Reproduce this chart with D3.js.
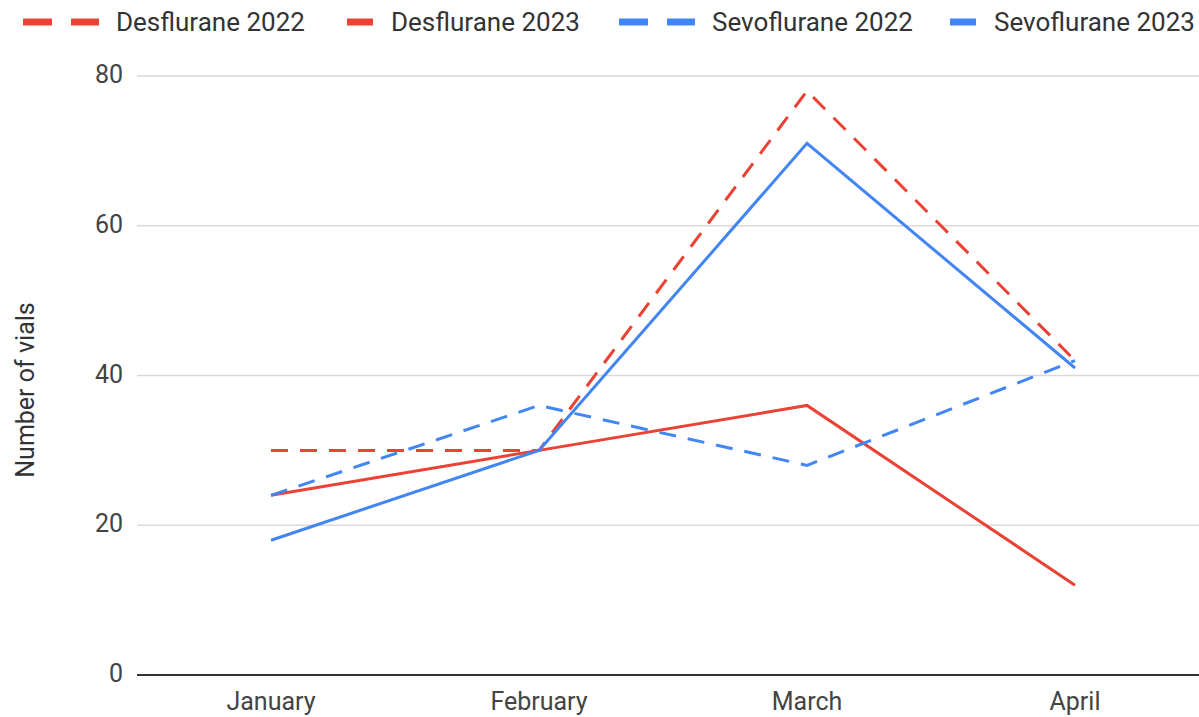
<!DOCTYPE html>
<html><head><meta charset="utf-8">
<script src="https://cdn.jsdelivr.net/npm/d3@7"></script>
<style>body{margin:0;background:#fff;}svg{display:block;font-family:Roboto,"Noto Sans",sans-serif;}</style>
</head><body>
<svg id="c" width="1199" height="717"></svg>
<script>
const months = ["January","February","March","April"];
const desflurane2022 = [30,30,78,42];
const desflurane2023 = [24,30,36,12];
const sevoflurane2022 = [24,36,28,42];
const sevoflurane2023 = [18,30,71,41];
const yTicks = [0,20,40,60,80];
const seriesNames = ["Desflurane 2022","Desflurane 2023","Sevoflurane 2022","Sevoflurane 2023"];

const series = [
  {name:seriesNames[0], values:desflurane2022, color:"#ea4335", dashed:true},
  {name:seriesNames[1], values:desflurane2023, color:"#ea4335", dashed:false},
  {name:seriesNames[2], values:sevoflurane2022, color:"#4285f4", dashed:true},
  {name:seriesNames[3], values:sevoflurane2023, color:"#4285f4", dashed:false}
];

const svg = d3.select("#c");
const mLeft = 137, mRight = 1209, mTop = 76, mBottom = 675;
const x = d3.scaleBand().domain(months).range([mLeft,mRight]);
const y = d3.scaleLinear().domain([0,80]).range([mBottom,mTop]);

// gridlines
svg.append("g").selectAll("line").data(yTicks.filter(d=>d>0)).join("line")
  .attr("x1",mLeft).attr("x2",1199).attr("y1",d=>y(d)).attr("y2",d=>y(d))
  .attr("stroke","#dadada").attr("stroke-width",1.5);

// y axis labels
const ya = svg.append("g").attr("transform",`translate(${mLeft},0)`)
  .call(d3.axisLeft(y).tickValues(yTicks).tickSize(0).tickPadding(14).tickFormat(d3.format("d")));
ya.select(".domain").remove();
ya.selectAll("text").attr("font-size",25).attr("dy","0.26em").attr("fill","#444").attr("font-family","Roboto");

// x axis
const xa = svg.append("g").attr("transform",`translate(0,${mBottom})`)
  .call(d3.axisBottom(x).tickSize(0).tickPadding(17));
xa.select(".domain").attr("d",`M${mLeft},0H1199`).attr("stroke","#333").attr("stroke-width",2);
xa.selectAll("text").attr("font-size",25).attr("fill","#444").attr("font-family","Roboto");

// y title
svg.append("text").attr("transform","translate(34,390) rotate(-90)")
  .attr("text-anchor","middle").attr("font-size",25).attr("fill","#333").text("Number of vials");

// lines
const line = d3.line().x((d,i)=>x(months[i])+x.bandwidth()/2).y(d=>y(d));
svg.append("g").selectAll("path").data(series).join("path")
  .attr("d",d=>line(d.values)).attr("fill","none")
  .attr("stroke",d=>d.color).attr("stroke-width",3)
  .attr("stroke-dasharray",d=>d.dashed?"17,12":null);

// legend
const legendX = [23,347,619,950];
const lg = svg.append("g").selectAll("g").data(series).join("g")
  .attr("transform",(d,i)=>`translate(${legendX[i]},22)`);
lg.each(function(d){
  const g = d3.select(this);
  if(d.dashed){
    g.append("line").attr("x1",0).attr("x2",29).attr("y1",0).attr("y2",0).attr("stroke",d.color).attr("stroke-width",7);
    g.append("line").attr("x1",48).attr("x2",76).attr("y1",0).attr("y2",0).attr("stroke",d.color).attr("stroke-width",7);
    g.append("text").attr("x",93).attr("y",0).attr("dy","0.36em").attr("font-size",26).attr("fill","#333").text(d.name);
  } else {
    g.append("line").attr("x1",0).attr("x2",26).attr("y1",0).attr("y2",0).attr("stroke",d.color).attr("stroke-width",7);
    g.append("text").attr("x",44).attr("y",0).attr("dy","0.36em").attr("font-size",26).attr("fill","#333").text(d.name);
  }
});
</script>
</body></html>
